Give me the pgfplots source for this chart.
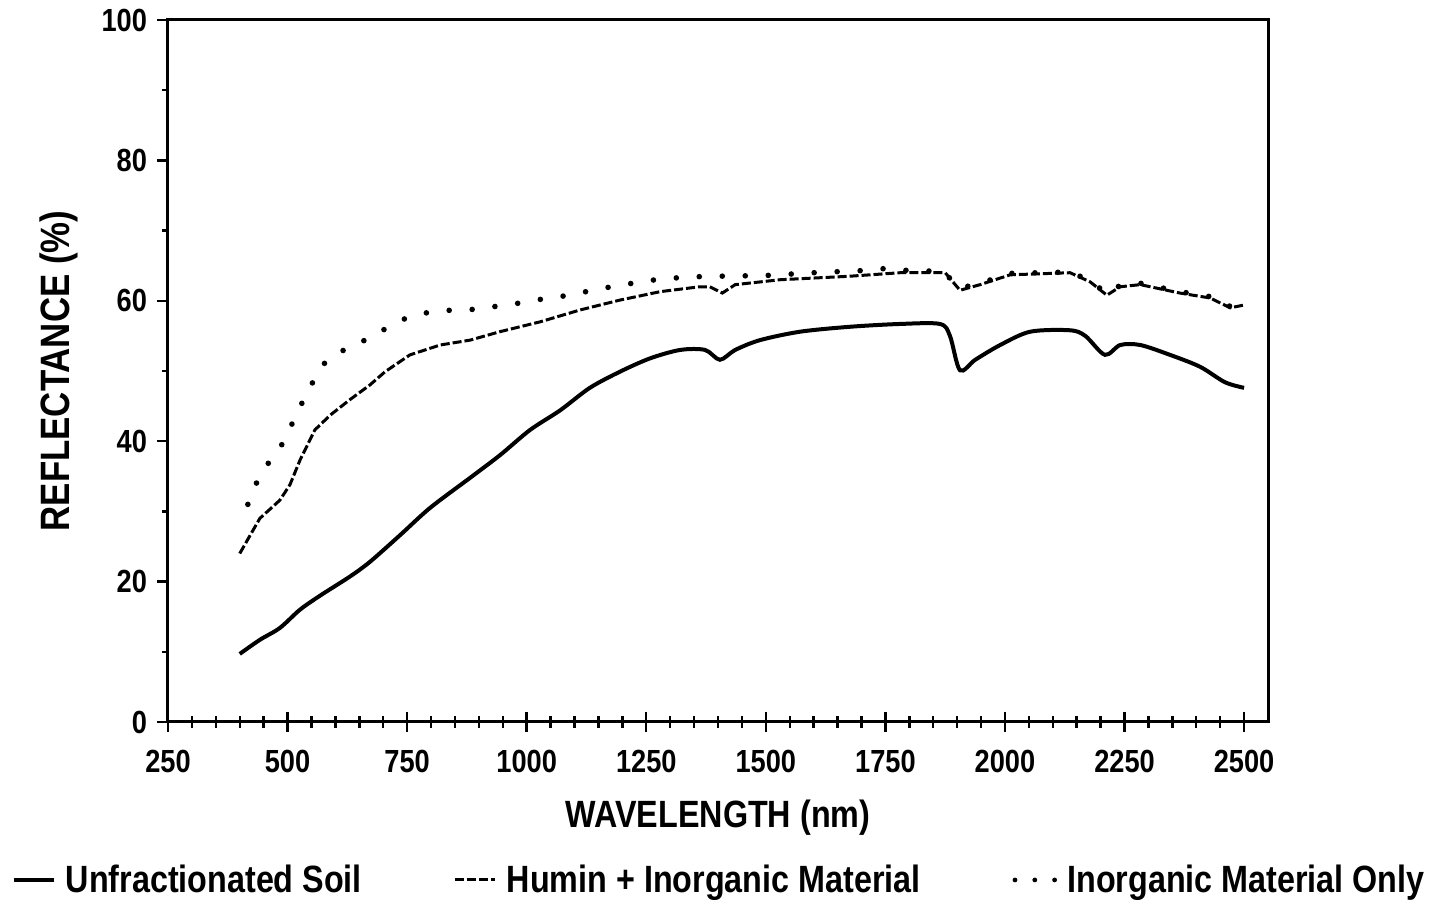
\documentclass[border=0pt]{standalone}
\usepackage{fontspec}
\setmainfont{Liberation Sans}[FakeStretch=0.85]
\usepackage{pgfplots}
\pgfplotsset{compat=1.18}

\pgfplotsset{
  frame/.style={
    scale only axis, width=550pt, height=351pt,
    xmin=250, xmax=2550, ymin=0, ymax=100,
    xtick pos=bottom, ytick pos=left,
    every tick/.style={black, line width=1.2pt},
  }
}

\begin{document}
\begin{tikzpicture}
\begin{axis}[
  frame,
  xtick={250,500,...,2500}, ytick={0,20,...,100},
  minor x tick num=4,
  tick align=center,
  major tick length=10pt, minor tick length=6pt,
  y tick style={draw=none},
  axis line style={line width=1.5pt},
  /pgf/number format/assume math mode=true,
  /pgf/number format/set thousands separator={},
  tick label style={font=\fontsize{16}{18}\selectfont\bfseries},
  xticklabel style={yshift=-5.5pt},
  yticklabel style={xshift=-2pt},
  xlabel={WAVELENGTH (nm)}, ylabel={REFLECTANCE (\%)},
  xlabel style={font=\fontsize{19}{22}\selectfont\bfseries},
  ylabel style={font=\fontsize{20.5}{22}\selectfont\bfseries},
  xlabel shift=7pt, ylabel shift=5pt,
  legend columns=3,
  legend style={at={(0.502,-0.225)}, anchor=center, draw=none,
    font=\fontsize{19}{22}\selectfont\bfseries,
    /tikz/every odd column/.append style={column sep=3pt},
    /tikz/every even column/.append style={column sep=44pt}},
  legend image code/.code={\draw[#1] (0pt,0pt) -- (20pt,0pt);},
]
\coordinate (o) at (rel axis cs:0,0);

\addplot[black, line width=2pt, smooth] coordinates {
(400,9.7) (442,11.7) (484,13.4) (526,16) (568,18) (630,20.7) (672,22.8)
(735,26.6) (798,30.5) (882,34.8) (944,38) (1007,41.6) (1070,44.4)
(1132,47.6) (1195,49.9) (1258,51.8) (1321,53) (1373,53) (1404,51.6)
(1436,53) (1488,54.4) (1572,55.6) (1676,56.3) (1781,56.7) (1864,56.7)
(1885,55) (1906,50.1) (1938,51.6) (1990,53.7) (2053,55.6) (2136,55.8)
(2168,55) (2209,52.3) (2241,53.7) (2283,53.7) (2345,52.3) (2408,50.6)
(2460,48.4) (2500,47.6)
};
\addlegendentry{Unfractionated Soil}

\addplot[black, line width=1.5pt, dash pattern=on 4.5pt off 1.5pt] coordinates {
(400,24) (442,29) (484,31.6) (505,33.8) (526,37.3) (557,41.6) (589,43.7)
(630,45.9) (672,48) (704,49.9) (756,52.3) (819,53.7) (882,54.4) (944,55.6)
(1028,57) (1112,58.7) (1195,60.1) (1279,61.3) (1362,62) (1383,62)
(1409,61.1) (1436,62.3) (1530,63) (1676,63.5) (1781,64) (1875,64)
(1906,61.5) (1948,62.3) (2011,63.7) (2136,64) (2178,62.7) (2213,60.8)
(2241,62) (2283,62.3) (2366,61.1) (2429,60.4) (2471,59) (2500,59.4)
};
\addlegendentry{Humin + Inorganic Material}

\addplot[black, line width=2.8pt, line cap=round, dash pattern=on 0pt off 11.5pt,
  legend image post style={dash pattern=on 0pt off 9.9pt, line width=2.4pt}] coordinates {
(417,31) (436,34.2) (461,37) (490,39.7) (511,42.7) (532,45.7) (555,48.7)
(582,51.6) (626,53.3) (672,54.7) (714,56.4) (756,57.8) (806,58.5)
(852,58.7) (902,58.8) (951,59.4) (1001,59.8) (1049,60.5) (1097,60.8)
(1145,61.7) (1193,62.1) (1241,62.8) (1287,63.1) (1335,63.4) (1400,63.5)
(1500,63.6) (1600,64) (1700,64.3) (1750,64.6) (1800,64.3) (1870,64.2)
(1906,61.8) (1948,62.5) (2011,63.9) (2136,64.1) (2178,62.9) (2213,61)
(2241,62.2) (2283,62.5) (2366,61.3) (2429,60.6) (2471,59.2) (2500,59.6)
};
\addlegendentry{Inorganic Material Only}
\end{axis}

% y ticks only: short, pointing outwards
\begin{axis}[
  frame,
  xtick=\empty, ytick={0,20,...,100}, minor y tick num=1,
  yticklabels={}, tick align=outside,
  major tick length=5.5pt, minor tick length=3pt,
  axis line style={draw=none},
]
\end{axis}
\pgfresetboundingbox
\path[use as bounding box] ([shift={(-84pt,-91pt)}]o) rectangle ([shift={(634.5pt,361pt)}]o);
\end{tikzpicture}
\end{document}
